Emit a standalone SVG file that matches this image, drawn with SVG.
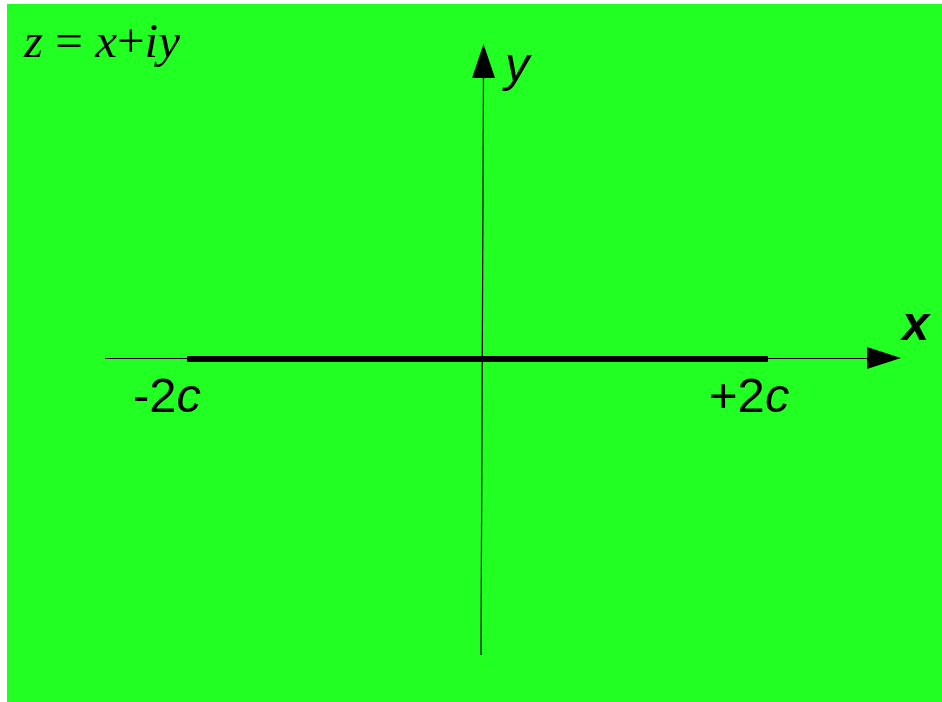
<svg xmlns="http://www.w3.org/2000/svg" width="942" height="702" viewBox="0 0 942 702">
<style>
.lbl{font-family:"Liberation Sans",Arial,sans-serif;font-size:49px;fill:#000}
.math{font-family:"Liberation Serif","Times New Roman",serif;font-size:49px;font-style:italic;fill:#000}
</style>
<rect x="0" y="0" width="942" height="702" fill="#ffffff"/>
<rect x="7" y="4" width="935" height="698" fill="#22ff22"/>
<g id="connectors">
<line x1="105" y1="358.5" x2="870" y2="358.5" stroke="#000" stroke-width="1"/>
<polygon points="867,347 901,358 867,369" fill="#000"/>
<line x1="481" y1="655" x2="483.5" y2="76" stroke="#000" stroke-width="1.2"/>
<polygon points="472,78 483.5,44 495,78" fill="#000"/>
<line x1="187" y1="359" x2="768" y2="359" stroke="#000" stroke-width="6"/>
</g>
<g id="formula"><text class="math" x="24" y="57">z <tspan font-style="normal">=</tspan> x<tspan font-style="normal">+</tspan>iy</text></g>
<g id="ylabel"><text class="lbl" x="505" y="81" font-style="italic">y</text></g>
<g id="xlabel"><text class="lbl" x="902" y="340" font-style="italic" font-weight="bold">x</text></g>
<g id="minus2c"><text class="lbl" x="133" y="412">-2<tspan font-style="italic">c</tspan></text></g>
<g id="plus2c"><text class="lbl" x="709" y="412">+2<tspan font-style="italic">c</tspan></text></g>
</svg>
